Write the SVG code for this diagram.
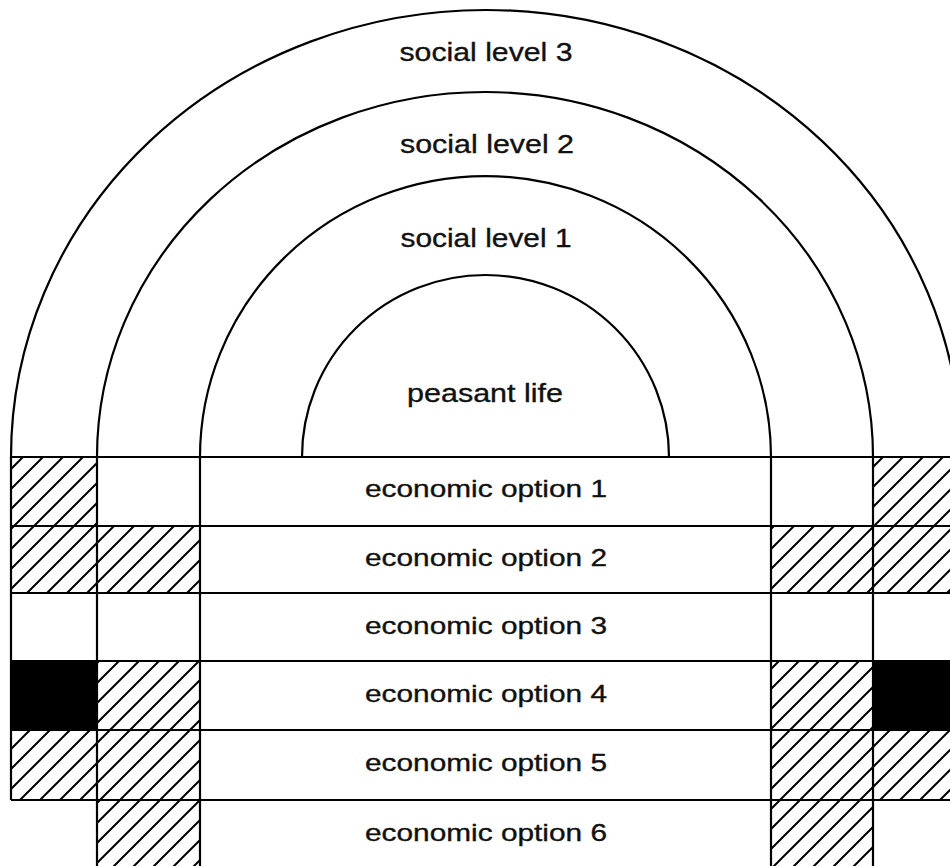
<svg xmlns="http://www.w3.org/2000/svg" width="950" height="866" viewBox="0 0 950 866">
  <style>
    .ln { fill: none; stroke: #000; stroke-width: 2.2; }
    .hatch { fill: url(#diag); stroke: none; }
    .solid { fill: #000; stroke: none; }
    .lbl { font-family: "Liberation Sans", Arial, Helvetica, sans-serif; fill: #111; stroke: #111; stroke-width: 0.35; text-anchor: middle; }
    .soc { font-size: 26px; }
    .eco { font-size: 24px; }
  </style>
  <defs>
    <!-- forward-slash hatching, 20px horizontal pitch -->
    <pattern id="diag" patternUnits="userSpaceOnUse" width="20" height="20">
      <path d="M0,20 L20,0 M-5,5 L5,-5 M15,25 L25,15" stroke="#000" stroke-width="2" fill="none"/>
    </pattern>
  </defs>
  <rect width="950" height="866" fill="#fff"/>

  <!-- shaded cells -->
  <g id="shading">
    <rect class="hatch" x="11" y="457" width="86" height="69"/>
    <rect class="hatch" x="873" y="457" width="80" height="69"/>
    <rect class="hatch" x="11" y="526" width="86" height="67"/>
    <rect class="hatch" x="97" y="526" width="103" height="67"/>
    <rect class="hatch" x="771" y="526" width="102" height="67"/>
    <rect class="hatch" x="873" y="526" width="80" height="67"/>
    <rect class="solid" x="11" y="661" width="86" height="69"/>
    <rect class="hatch" x="97" y="661" width="103" height="69"/>
    <rect class="hatch" x="771" y="661" width="102" height="69"/>
    <rect class="solid" x="873" y="661" width="80" height="69"/>
    <rect class="hatch" x="11" y="730" width="86" height="70"/>
    <rect class="hatch" x="97" y="730" width="103" height="70"/>
    <rect class="hatch" x="771" y="730" width="102" height="70"/>
    <rect class="hatch" x="873" y="730" width="80" height="70"/>
    <rect class="hatch" x="97" y="800" width="103" height="70"/>
    <rect class="hatch" x="771" y="800" width="102" height="70"/>
  </g>

  <!-- arches -->
  <g id="social-level-3">
    <path class="ln" d="M11,457 A475,447 0 0 1 961,457"/>
    <text class="lbl soc" x="486" y="61" textLength="173" lengthAdjust="spacingAndGlyphs">social level 3</text>
  </g>
  <g id="social-level-2">
    <path class="ln" d="M97,457 A388,365 0 0 1 873,457"/>
    <text class="lbl soc" x="487" y="153" textLength="174" lengthAdjust="spacingAndGlyphs">social level 2</text>
  </g>
  <g id="social-level-1">
    <path class="ln" d="M200,457 A285.5,281 0 0 1 771,457"/>
    <text class="lbl soc" x="486" y="247" textLength="171" lengthAdjust="spacingAndGlyphs">social level 1</text>
  </g>
  <g id="peasant-life">
    <path class="ln" d="M302,457 A183.5,182 0 0 1 669,457"/>
    <text class="lbl soc" x="485" y="402" textLength="156" lengthAdjust="spacingAndGlyphs">peasant life</text>
  </g>

  <!-- economic option rows -->
  <g id="economic-option-1"><text class="lbl eco" x="486" y="497" textLength="242" lengthAdjust="spacingAndGlyphs">economic option 1</text></g>
  <g id="economic-option-2"><text class="lbl eco" x="486" y="566" textLength="242" lengthAdjust="spacingAndGlyphs">economic option 2</text></g>
  <g id="economic-option-3"><text class="lbl eco" x="486" y="634" textLength="242" lengthAdjust="spacingAndGlyphs">economic option 3</text></g>
  <g id="economic-option-4"><text class="lbl eco" x="486" y="702" textLength="242" lengthAdjust="spacingAndGlyphs">economic option 4</text></g>
  <g id="economic-option-5"><text class="lbl eco" x="486" y="771" textLength="242" lengthAdjust="spacingAndGlyphs">economic option 5</text></g>
  <g id="economic-option-6"><text class="lbl eco" x="486" y="841" textLength="242" lengthAdjust="spacingAndGlyphs">economic option 6</text></g>

  <!-- grid lines -->
  <g id="connectors">
    <path class="ln" d="M11,457 H952 M11,526 H952 M11,593 H952 M11,661 H952 M11,730 H952 M11,800 H952"/>
    <path class="ln" d="M11,457 V800 M97,457 V868 M200,457 V868 M771,457 V868 M873,457 V868"/>
  </g>
</svg>
